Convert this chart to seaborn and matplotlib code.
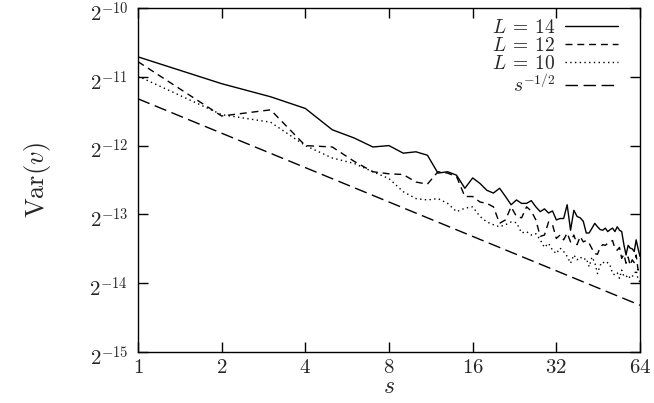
import numpy as np
import pandas as pd
import seaborn as sns
import matplotlib
matplotlib.use("Agg")
import matplotlib.pyplot as plt
from matplotlib.transforms import ScaledTranslation

# s = 1..64, values as log2(Var(v))
s = list(range(1, 65))

l14_log2 = [-10.71, -11.10, -11.29, -11.46, -11.77, -11.89, -12.02, -12.00,
            -12.11, -12.09, -12.14, -12.40, -12.38, -12.43, -12.62, -12.47,
            -12.55, -12.65, -12.69, -12.62, -12.74, -12.86, -12.79, -12.84,
            -12.84, -12.80, -12.89, -12.96, -12.92, -12.98, -12.95, -13.08,
            -13.06, -13.06, -12.86, -13.23, -12.94, -13.03, -13.05, -13.10,
            -13.27, -13.27, -13.20, -13.13, -13.18, -13.22, -13.23, -13.20,
            -13.25, -13.22, -13.20, -13.25, -13.18, -13.23, -13.25, -13.44,
            -13.59, -13.45, -13.49, -13.50, -13.54, -13.37, -13.50, -13.61]

l12_log2 = [-10.78, -11.57, -11.48, -12.00, -12.02, -12.23, -12.38, -12.41,
            -12.42, -12.53, -12.56, -12.38, -12.40, -12.45, -12.74, -12.74,
            -12.82, -12.84, -12.89, -13.13, -13.08, -12.89, -13.03, -13.05,
            -12.89, -12.95, -13.08, -13.32, -13.30, -13.11, -13.15, -13.35,
            -13.30, -13.37, -13.27, -13.40, -13.30, -13.44, -13.32, -13.40,
            -13.38, -13.42, -13.50, -13.57, -13.58, -13.48, -13.44, -13.45,
            -13.42, -13.40, -13.38, -13.50, -13.52, -13.48, -13.64, -13.58,
            -13.71, -13.62, -13.74, -13.66, -13.70, -13.59, -13.81, -13.75]

l10_log2 = [-10.99, -11.55, -11.66, -12.00, -12.18, -12.26, -12.38, -12.48,
            -12.67, -12.77, -12.79, -12.77, -12.84, -12.96, -12.91, -12.89,
            -13.03, -13.11, -13.15, -13.18, -13.15, -13.11, -13.12, -13.27,
            -13.25, -13.30, -13.28, -13.37, -13.48, -13.42, -13.52, -13.57,
            -13.49, -13.54, -13.61, -13.71, -13.59, -13.66, -13.62, -13.66,
            -13.64, -13.76, -13.62, -13.70, -13.86, -13.74, -13.69, -13.72,
            -13.70, -13.75, -13.86, -13.88, -13.85, -13.93, -13.81, -13.90,
            -13.91, -13.88, -13.93, -13.90, -13.88, -13.81, -13.95, -13.98]

ref_s = [1, 64]
ref_log2 = [-11.32, -14.32]

labels = [r"$L\:=\:14$", r"$L\:=\:12$", r"$L\:=\:10$", "$s^{-1/2}$"]
x_ticks = [1, 2, 4, 8, 16, 32, 64]
y_exps = [-15, -14, -13, -12, -11, -10]

sns.set_style("ticks")
plt.rcParams["font.family"] = "serif"
plt.rcParams["mathtext.fontset"] = "cm"

fig = plt.figure(figsize=(6.54, 4.03), dpi=100)
ax = fig.add_axes([0.211, 0.1266, 0.7676, 0.8535])
ax.set_xscale("log", base=2)
ax.set_yscale("log", base=2)

styles = ["-", (0, (5, 3.5)), (0, (1, 2.4)), (0, (9, 4))]
series = [(s, l14_log2), (s, l12_log2), (s, l10_log2), (ref_s, ref_log2)]
handles = []
for (xs, ys), ls in zip(series, styles):
    df = pd.DataFrame({"s": xs, "var": np.power(2.0, ys)})
    sns.lineplot(data=df, x="s", y="var", ax=ax, color="black", lw=1.0,
                 linestyle=ls, errorbar=None)
    handles.append(ax.lines[-1])

ax.set_xlim(1, 64)
ax.set_ylim(2.0 ** -15, 2.0 ** -10)
ax.set_xticks(x_ticks)
ax.set_xticklabels(["$%d$" % t for t in x_ticks])
ax.set_yticks([2.0 ** e for e in y_exps])
ax.set_yticklabels(["$2^{%d}$" % e for e in y_exps])
ax.minorticks_off()
ax.tick_params(direction="in", length=7, width=1, top=True, right=True,
               labelsize=15, color="black")
ax.tick_params(axis="x", pad=4)
ax.tick_params(axis="y", pad=7)
for sp in ax.spines.values():
    sp.set_color("black")
    sp.set_linewidth(1.0)

# the superscript makes the labels tall; nudge them down so 2^-10 fits
shift = ScaledTranslation(0, -0.035, fig.dpi_scale_trans)
for lab in ax.get_yticklabels():
    lab.set_transform(lab.get_transform() + shift)

ax.set_xlabel("$s$", fontsize=17, labelpad=-1)
ax.set_ylabel(r"$\mathrm{Var}(v)$", fontsize=19)
ax.yaxis.set_label_coords(-0.17, 0.5)

ax.legend(handles, labels, loc="upper right", bbox_to_anchor=(0.956, 0.968),
          frameon=False, markerfirst=False, fontsize=14, handlelength=2.7,
          labelspacing=0.0, borderaxespad=0.0, handletextpad=0.5,
          borderpad=0.0)

fig.savefig("out.png", dpi=100)
